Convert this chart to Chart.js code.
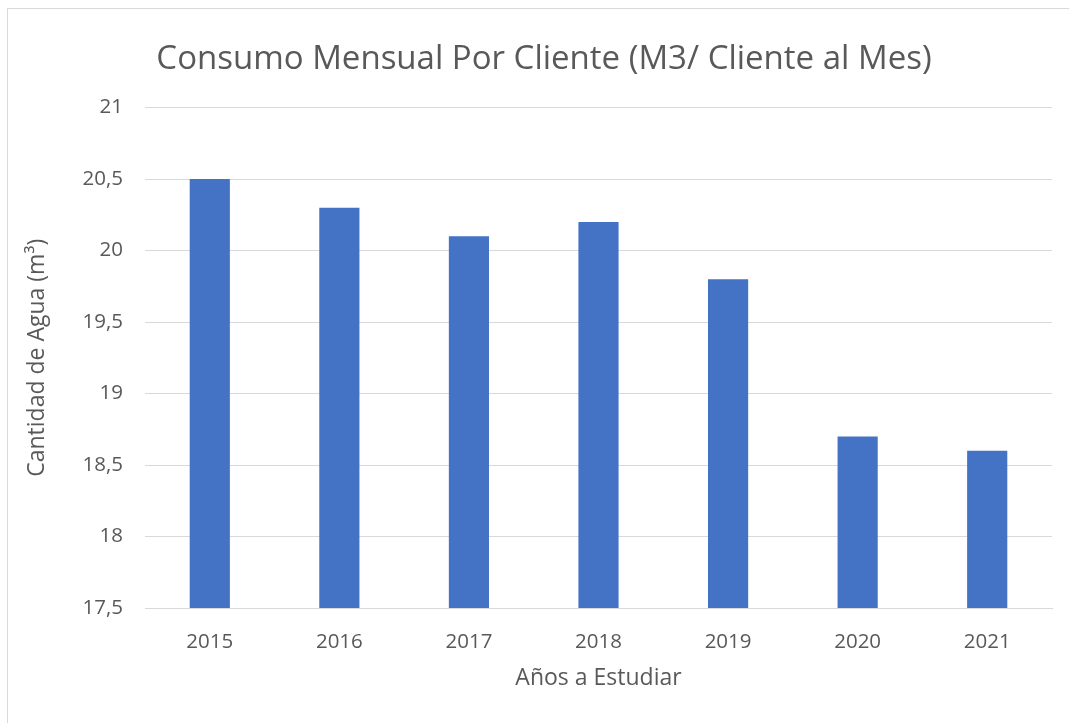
<!DOCTYPE html>
<html>
<head>
<meta charset="utf-8">
<script src="https://cdn.jsdelivr.net/npm/chart.js@4"></script>
<style>
    html, body { margin: 0; padding: 0; background: #fff; overflow: hidden; }
    #frame {
        position: absolute;
        left: 7px;
        top: 8px;
        width: 1070px;
        height: 730px;
        border: 1px solid #d9d9d9;
        box-sizing: border-box;
    }
    #box {
        position: absolute;
        left: 8px;
        top: 9px;
        width: 1073px;
        height: 714px;
    }
</style>
</head>
<body>
<div id="frame"></div>
<div id="box"><canvas id="chart"></canvas></div>
<script>
const years = ['2015', '2016', '2017', '2018', '2019', '2020', '2021'];
const consumo = [20.5, 20.3, 20.1, 20.2, 19.8, 18.7, 18.6];
const yTicks = [17.5, 18, 18.5, 19, 19.5, 20, 20.5, 21];

const gray = '#595959';
const font = '"Open Sans", sans-serif';

function decimalComma(v) {
    return String(v).replace('.', ',');
}

const ctx = document.getElementById('chart');
new Chart(ctx, {
    type: 'bar',
    data: {
        labels: years,
        datasets: [{
            label: 'Consumo',
            data: consumo,
            backgroundColor: '#4472c4',
            barPercentage: 1,
            categoryPercentage: 0.31
        }]
    },
    options: {
        responsive: true,
        maintainAspectRatio: false,
        animation: false,
        layout: {
            padding: { left: 28, right: 29, top: 0, bottom: 31 }
        },
        plugins: {
            legend: { display: false },
            tooltip: { enabled: false },
            title: {
                display: true,
                text: 'Consumo Mensual Por Cliente (M3/ Cliente al Mes)',
                color: gray,
                font: { family: font, size: 33, weight: 'normal' },
                padding: { top: 31, bottom: 28 }
            }
        },
        scales: {
            x: {
                grid: { display: false, drawTicks: false },
                border: { color: '#d9d9d9', width: 1 },
                ticks: {
                    color: gray,
                    font: { family: font, size: 20.5 },
                    padding: 22
                },
                title: {
                    display: true,
                    text: 'Años a Estudiar',
                    color: gray,
                    font: { family: font, size: 23 },
                    padding: 0
                },
                afterFit: scale => { scale.height = 84; }
            },
            y: {
                min: 17.5,
                max: 21,
                afterBuildTicks: scale => {
                    scale.ticks = yTicks.map(v => ({ value: v }));
                },
                grid: { color: '#d9d9d9', drawTicks: false },
                border: { display: false },
                ticks: {
                    color: gray,
                    font: { family: font, size: 20.5 },
                    padding: 22,
                    callback: v => decimalComma(v)
                },
                title: {
                    display: true,
                    text: 'Cantidad de Agua (m³)',
                    color: gray,
                    font: { family: font, size: 23 },
                    padding: { top: -12, bottom: 0 }
                },
                afterFit: scale => { scale.width = 109; }
            }
        }
    }
});
</script>
</body>
</html>
